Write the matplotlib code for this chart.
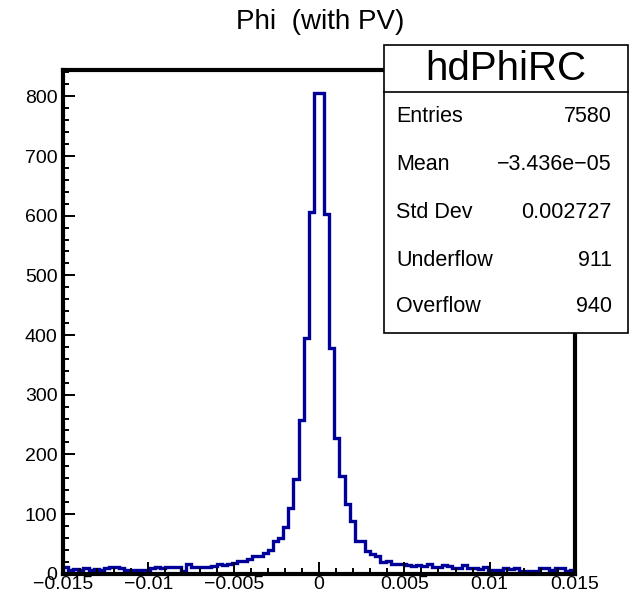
import numpy as np
import matplotlib
matplotlib.use("Agg")
import matplotlib.pyplot as plt
from matplotlib.patches import Rectangle
from matplotlib.lines import Line2D
from matplotlib.ticker import MultipleLocator

plt.rcParams['font.family'] = ['Liberation Sans', 'DejaVu Sans']

# histogram hdPhiRC : 100 bins between -0.015 and 0.015
x_min, x_max, n_bins = -0.015, 0.015, 100
counts = [
    11, 6, 8, 6, 9, 6, 8, 7, 9, 11,
    12, 9, 7, 7, 7, 7, 7, 9, 11, 9,
    12, 11, 12, 5, 17, 12, 11, 12, 12, 13,
    16, 14, 17, 18, 21, 22, 25, 29, 30, 34,
    39, 55, 59, 78, 110, 158, 258, 395, 607, 805,
    805, 603, 378, 228, 163, 116, 89, 55, 55, 38,
    33, 30, 20, 22, 16, 16, 16, 15, 13, 14,
    13, 16, 12, 12, 14, 13, 10, 10, 14, 10,
    10, 8, 12, 6, 6, 6, 9, 8, 9, 5,
    5, 5, 5, 10, 9, 6, 10, 9, 5, 6,
]

title = "Phi  (with PV)"
stats_name = "hdPhiRC"
stats_labels = ["Entries", "Mean", "Std Dev", "Underflow", "Overflow"]
stats_values = ["7580", "\u22123.436e\u221205", "0.002727", "911", "940"]
x_ticks = [-0.015, -0.01, -0.005, 0, 0.005, 0.01, 0.015]
x_ticklabels = ['\u22120.015', '\u22120.01', '\u22120.005', '0', '0.005', '0.01', '0.015']

W, H = 632, 597
fig = plt.figure(figsize=(W / 100, H / 100), dpi=100)

# frame in pixel coordinates: left 63, right 575, top 69.5, bottom 573.7
ax = fig.add_axes([63 / W, (H - 573.7) / H, (575 - 63) / W, (573.7 - 69.5) / H])

edges = np.linspace(x_min, x_max, n_bins + 1)
ax.stairs(counts, edges, color='#000099', linewidth=2.4)

ax.set_xlim(x_min, x_max)
ax.set_ylim(0, 845)

for side in ['left', 'right', 'top', 'bottom']:
    ax.spines[side].set_linewidth(3.0)
    ax.spines[side].set_color('black')

ax.set_xticks(x_ticks)
ax.set_xticklabels(x_ticklabels)
ax.xaxis.set_minor_locator(MultipleLocator(0.001))
ax.yaxis.set_major_locator(MultipleLocator(100))
ax.yaxis.set_minor_locator(MultipleLocator(20))
ax.tick_params(which='both', direction='in', top=False, right=False, width=1.4, labelsize=14)
ax.tick_params(which='major', length=8.5)
ax.tick_params(which='minor', length=4.3)
ax.tick_params(axis='x', pad=2)
ax.tick_params(axis='y', pad=4)

fig.text(320 / W, 1 - 22 / H, title, ha='center', va='center', fontsize=20)

# stats box (pixel coords)
bx0, bx1, by0, by1, bsep = 384, 628, 45, 333, 92
fig.add_artist(Rectangle((bx0 / W, 1 - by1 / H), (bx1 - bx0) / W, (by1 - by0) / H,
                         transform=fig.transFigure, facecolor='white',
                         edgecolor='black', linewidth=1.2, zorder=5))
fig.add_artist(Line2D([bx0 / W, bx1 / W], [1 - bsep / H, 1 - bsep / H],
                      transform=fig.transFigure, color='black', linewidth=1.2, zorder=6))
fig.text((bx0 + bx1) / 2 / W, 1 - 69 / H, stats_name, ha='center', va='center',
         fontsize=29, zorder=7)
row_y = [117, 165, 212.5, 260, 307]
for lab, val, yy in zip(stats_labels, stats_values, row_y):
    fig.text(396 / W, 1 - yy / H, lab, ha='left', va='center', fontsize=15.5, zorder=7)
    fig.text(612 / W, 1 - yy / H, val, ha='right', va='center', fontsize=15.5, zorder=7)

fig.savefig("out.png", dpi=100)
